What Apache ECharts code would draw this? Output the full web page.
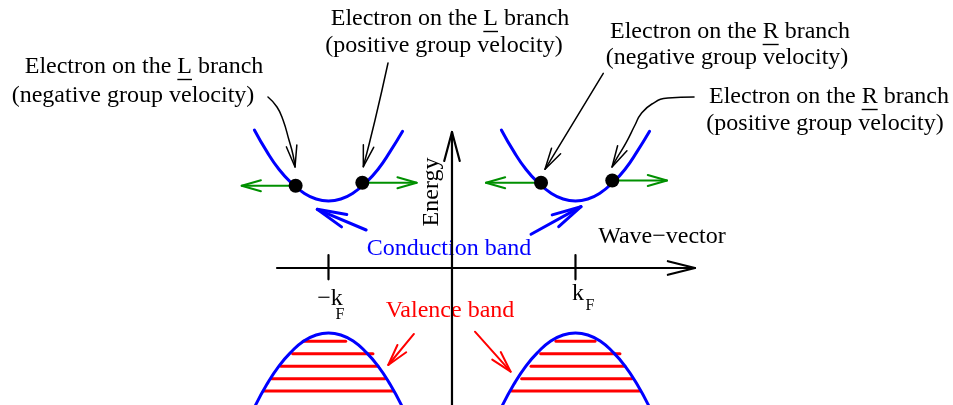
<!DOCTYPE html>
<html><head><meta charset="utf-8">
<script src="https://cdn.jsdelivr.net/npm/echarts@6/dist/echarts.min.js"></script>
<style>html,body{margin:0;padding:0;background:#fff}#c{width:953px;height:405px}</style>
</head><body><div id="c"></div>
<script>
// ---- data (wave-vector in units of kF, energy in arbitrary units) ----
const condLeft  = [[-1.6,2.06],[-1.5,1.74],[-1.4,1.47],[-1.3,1.27],[-1.2,1.12],[-1.1,1.03],[-1.0,1.00],[-0.9,1.03],[-0.8,1.12],[-0.7,1.27],[-0.6,1.47],[-0.5,1.74],[-0.4,2.04]];
const condRight = [[0.4,2.06],[0.5,1.74],[0.6,1.47],[0.7,1.27],[0.8,1.12],[0.9,1.03],[1.0,1.00],[1.1,1.03],[1.2,1.12],[1.3,1.27],[1.4,1.47],[1.5,1.74],[1.6,2.04]];
const valLeft   = [[-1.7,-2.48],[-1.6,-2.08],[-1.5,-1.74],[-1.4,-1.46],[-1.3,-1.25],[-1.2,-1.09],[-1.1,-1.00],[-1.0,-0.97],[-0.9,-1.00],[-0.8,-1.09],[-0.7,-1.25],[-0.6,-1.46],[-0.5,-1.74],[-0.4,-2.08],[-0.3,-2.48]];
const valRight  = [[0.3,-2.48],[0.4,-2.08],[0.5,-1.74],[0.6,-1.46],[0.7,-1.25],[0.8,-1.09],[0.9,-1.00],[1.0,-0.97],[1.1,-1.00],[1.2,-1.09],[1.3,-1.25],[1.4,-1.46],[1.5,-1.74],[1.6,-2.08],[1.7,-2.48]];
const filledLevels = [-1.094,-1.279,-1.467,-1.652,-1.836];
const filledLeftK  = [[-1.206,-0.861],[-1.290,-0.640],[-1.385,-0.599],[-1.460,-0.543],[-1.522,-0.478]];
const filledRightK = [[0.842,1.158],[0.718,1.360],[0.640,1.401],[0.564,1.457],[0.483,1.522]];
const electrons    = [[-1.266,1.228],[-0.726,1.273],[0.721,1.273],[1.298,1.306]];
const velocityTipK = [-1.703,-0.286,0.275,1.741];
const transitionArrows = [[[-0.695,0.567],[-1.091,0.876]],[[0.640,0.503],[1.045,0.915]]];
const valenceArrows    = [[[-0.308,-0.985],[-0.516,-1.448]],[[0.186,-0.951],[0.475,-1.548]]];
const leaderLneg = [[-1.490,2.552],[-1.417,2.403],[-1.368,2.209],[-1.320,1.910],[-1.287,1.687],[-1.271,1.507]];
const leaderLpos = [[-0.518,3.060],[-0.623,2.209],[-0.718,1.512]];
const leaderRneg = [[1.225,2.906],[0.753,1.473]];
const leaderRpos = [[1.960,2.552],[1.749,2.537],[1.619,2.448],[1.530,2.299],[1.482,2.134],[1.409,1.866],[1.336,1.642],[1.296,1.507]];
const kAxisExtent = [-1.417,1.968];
const eAxisExtent = [-2.1,2.03];
const kTicks = [-1,1];
const kTickLabels = ['\u2212k','k'];
const tickHalf = [-0.169,0.194];

// ---- layout ----
const W=953,H=405;
const X_MIN=-3.66, X_MAX=4.057, Y_MIN=-2.045, Y_MAX=4.0;
const SX=W/(X_MAX-X_MIN), SY=H/(Y_MAX-Y_MIN);
const BLUE='#0000ff', RED='#ff0000', GREEN='#009000', BLACK='#000000';
const FONT='"Liberation Serif","Times New Roman",serif';

function head(tail, tip, len, ang){
  const dx=(tip[0]-tail[0])*SX, dy=-(tip[1]-tail[1])*SY;
  const L=Math.hypot(dx,dy), bx=-dx/L, by=-dy/L, a=ang*Math.PI/180;
  const w=[];
  for (const s of [1,-1]){
    const c=Math.cos(s*a), sn=Math.sin(s*a);
    const wx=(bx*c-by*sn)*len, wy=(bx*sn+by*c)*len;
    w.push([tip[0]+wx/SX, tip[1]-wy/SY]);
  }
  return [w[0], tip, w[1]];
}
const series=[];
function line(data,color,width,smooth,z){
  series.push({type:'line',data:data,symbol:'none',smooth:smooth||false,silent:true,animation:false,clip:true,
    lineStyle:{color:color,width:width,cap:'round',join:'round'},z:z||3});
}
// filled valence states
filledLevels.forEach((e,i)=>{
  line([[filledLeftK[i][0],e],[filledLeftK[i][1],e]],RED,3,false,3);
  line([[filledRightK[i][0],e],[filledRightK[i][1],e]],RED,3,false,3);
});
// bands
[condLeft,condRight,valLeft,valRight].forEach(d=>line(d,BLUE,3,true,4));
// axes
line([[kAxisExtent[0],0],[kAxisExtent[1],0]],BLACK,2.2,false,5);
line(head([kAxisExtent[0],0],[kAxisExtent[1],0],28,14),BLACK,2.2,false,5);
line([[0,eAxisExtent[0]],[0,eAxisExtent[1]]],BLACK,2.2,false,5);
line(head([0,eAxisExtent[0]],[0,eAxisExtent[1]],30,15),BLACK,2.2,false,5);
kTicks.forEach(k=>line([[k,tickHalf[0]],[k,tickHalf[1]]],BLACK,2.2,false,5));
// velocity arrows
electrons.forEach((p,i)=>{
  const tail=[p[0],p[1]], tip=[velocityTipK[i],p[1]];
  line([tail,tip],GREEN,2,false,4);
  line(head(tail,tip,20,16),GREEN,2,false,4);
});
// transition arrows
transitionArrows.forEach(a=>{ line(a,BLUE,3,false,4); line(head(a[0],a[1],30,13),BLUE,3,false,4); });
valenceArrows.forEach(a=>{ line(a,RED,2,false,4); line(head(a[0],a[1],22,15),RED,2,false,4); });
// leader arrows
[leaderLneg,leaderLpos,leaderRneg,leaderRpos].forEach(d=>{
  line(d,BLACK,1.5,d.length>2?0.5:false,4);
  line(head(d[d.length-2],d[d.length-1],22,14),BLACK,1.5,false,4);
});
// electrons
series.push({type:'scatter',data:electrons,symbol:'circle',symbolSize:14,silent:true,animation:false,
  itemStyle:{color:BLACK,opacity:1},z:6});

// ---- text ----
const ctx=document.createElement('canvas').getContext('2d');
function tw(s,size){ ctx.font=size+'px '+FONT; return ctx.measureText(s).width; }
const graphic=[];
function txt(s,x,y,opt){
  opt=opt||{};
  const size=opt.size||24;
  graphic.push({type:'text',x:x,y:y,rotation:opt.rot||0,z:1,silent:true,
    style:{text:s,font:size+'px '+FONT,fill:opt.color||BLACK,textAlign:'center',textVerticalAlign:'middle',align:'center',verticalAlign:'middle'}});
}
function txtU(pre,letter,post,x,y){
  txt(pre+letter+post,x,y);
  const total=tw(pre+letter+post,24), x0=x-total/2+tw(pre,24), lw=tw(letter,24);
  graphic.push({type:'line',z:1,silent:true,shape:{x1:x0,y1:y+12.5,x2:x0+lw,y2:y+12.5},style:{stroke:BLACK,lineWidth:1.4}});
}
txtU('Electron on the ','L',' branch',450,19);
txt('(positive group velocity)',444,46);
txtU('Electron on the ','R',' branch',730,32);
txt('(negative group velocity)',727,58);
txtU('Electron on the ','R',' branch',829,97);
txt('(positive group velocity)',825,124);
txtU('Electron on the ','L',' branch',144,67);
txt('(negative group velocity)',133,96);
txt('Energy',432,192,{rot:Math.PI/2});
txt('Wave\u2212vector',662,237);
txt('Conduction band',449,249,{color:BLUE});
txt('Valence band',450,311,{color:RED});
txt(kTickLabels[0],330,299);
txt('F',340,315,{size:16});
txt(kTickLabels[1],578,294);
txt('F',590,306,{size:16});

const chart=echarts.init(document.getElementById('c'));
chart.setOption({
  animation:false,
  backgroundColor:'#ffffff',
  grid:{left:0,right:0,top:0,bottom:0},
  xAxis:{type:'value',min:X_MIN,max:X_MAX,show:false},
  yAxis:{type:'value',min:Y_MIN,max:Y_MAX,show:false},
  series:series,
  graphic:graphic
});
</script></body></html>
